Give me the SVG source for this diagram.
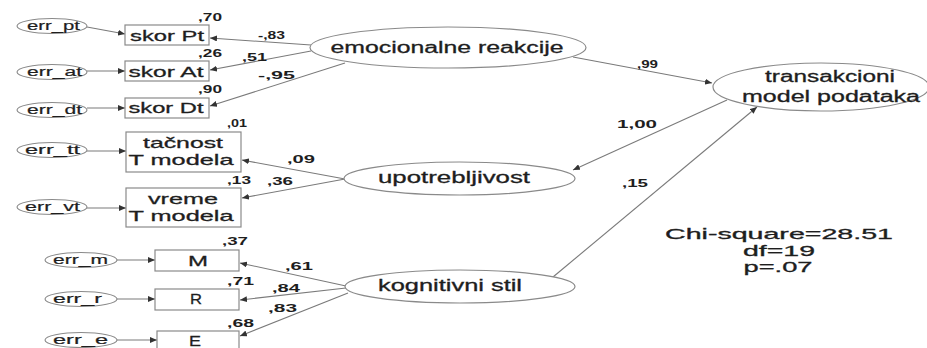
<svg xmlns="http://www.w3.org/2000/svg" width="927" height="348" viewBox="0 0 927 348">
  <style>
    .bg { fill: #ffffff; }
    .obs { fill: #ffffff; stroke: #8a8a8a; stroke-width: 1.2; }
    .lat { fill: #ffffff; stroke: #8a8a8a; stroke-width: 1.2; }
    .err { fill: #ffffff; stroke: #8a8a8a; stroke-width: 1.1; }
    .edge { fill: none; stroke: #7a7a7a; stroke-width: 1.1; marker-end: url(#arrow); }
    .t { font-family: "Liberation Sans", "DejaVu Sans", sans-serif; fill: #1e1e1e; stroke: #1e1e1e; stroke-width: 0.3; text-anchor: middle; }
    .big { font-size: 16px; }
    .mid { font-size: 15px; }
    .small { font-size: 12.5px; stroke-width: 0.2; }
    .num { font-family: "Liberation Sans", "DejaVu Sans", sans-serif; fill: #1e1e1e; font-size: 11.5px; font-weight: bold; }
    .stat { font-size: 14.5px; }
  </style>
  <defs>
    <marker id="arrow" viewBox="0 0 7 6" refX="7" refY="3" markerWidth="7" markerHeight="6" markerUnits="userSpaceOnUse" orient="auto">
      <path d="M0,0 L7,3 L0,6 z" fill="#333333"/>
    </marker>
  </defs>
  <rect class="bg" x="0" y="0" width="927" height="348"/>

  <!-- connectors -->
  <g id="connectors">
    <!-- error terms to indicators -->
    <line class="edge" x1="87" y1="27" x2="125" y2="34"/>
    <line class="edge" x1="87" y1="71" x2="125" y2="71"/>
    <line class="edge" x1="87" y1="108" x2="125" y2="108"/>
    <line class="edge" x1="87" y1="151" x2="126" y2="151"/>
    <line class="edge" x1="87" y1="208" x2="126" y2="208"/>
    <line class="edge" x1="117" y1="260" x2="155" y2="260"/>
    <line class="edge" x1="117" y1="299" x2="155" y2="299"/>
    <line class="edge" x1="117" y1="340" x2="157" y2="340"/>
    <!-- emocionalne reakcije to indicators -->
    <line class="edge" x1="311" y1="45" x2="210" y2="38"/>
    <line class="edge" x1="311" y1="51" x2="210" y2="70"/>
    <line class="edge" x1="345" y1="63" x2="210" y2="106"/>
    <!-- upotrebljivost to indicators -->
    <line class="edge" x1="345" y1="179" x2="242" y2="160"/>
    <line class="edge" x1="345" y1="179" x2="242" y2="198"/>
    <!-- kognitivni stil to indicators -->
    <line class="edge" x1="346" y1="286" x2="240" y2="263"/>
    <line class="edge" x1="346" y1="288" x2="240" y2="300"/>
    <line class="edge" x1="348" y1="293" x2="240" y2="336"/>
    <!-- structural paths -->
    <line class="edge" x1="573" y1="57" x2="712" y2="83"/>
    <line class="edge" x1="727" y1="100" x2="573" y2="170"/>
    <line class="edge" x1="553" y1="277" x2="757" y2="107"/>
  </g>

  <!-- error terms -->
  <g id="err_pt"><ellipse class="err" cx="52" cy="26" rx="35" ry="7.5"/><text class="t small" x="53.5" y="30" textLength="53" lengthAdjust="spacingAndGlyphs">err_pt</text></g>
  <g id="err_at"><ellipse class="err" cx="52" cy="72" rx="35" ry="7.5"/><text class="t small" x="54.5" y="76" textLength="55" lengthAdjust="spacingAndGlyphs">err_at</text></g>
  <g id="err_dt"><ellipse class="err" cx="52" cy="110" rx="35" ry="7.5"/><text class="t small" x="54.5" y="114" textLength="55" lengthAdjust="spacingAndGlyphs">err_dt</text></g>
  <g id="err_tt"><ellipse class="err" cx="52" cy="150" rx="35" ry="7.5"/><text class="t small" x="52.5" y="154" textLength="55" lengthAdjust="spacingAndGlyphs">err_tt</text></g>
  <g id="err_vt"><ellipse class="err" cx="52" cy="207" rx="35" ry="7.5"/><text class="t small" x="52.5" y="211" textLength="55" lengthAdjust="spacingAndGlyphs">err_vt</text></g>
  <g id="err_m"><ellipse class="err" cx="81" cy="260" rx="36" ry="7.5"/><text class="t small" x="80.5" y="264" textLength="55" lengthAdjust="spacingAndGlyphs">err_m</text></g>
  <g id="err_r"><ellipse class="err" cx="81" cy="299" rx="36" ry="7.5"/><text class="t small" x="77.5" y="303" textLength="49" lengthAdjust="spacingAndGlyphs">err_r</text></g>
  <g id="err_e"><ellipse class="err" cx="81" cy="340" rx="36" ry="7.5"/><text class="t small" x="80.5" y="344" textLength="55" lengthAdjust="spacingAndGlyphs">err_e</text></g>

  <!-- observed indicators -->
  <g id="skor_pt"><rect class="obs" x="125" y="25" width="84" height="20"/><text class="t mid" x="167" y="41" textLength="74" lengthAdjust="spacingAndGlyphs">skor Pt</text></g>
  <g id="skor_at"><rect class="obs" x="125" y="61" width="84" height="20"/><text class="t mid" x="166" y="77" textLength="75" lengthAdjust="spacingAndGlyphs">skor At</text></g>
  <g id="skor_dt"><rect class="obs" x="125" y="98" width="84" height="20"/><text class="t mid" x="166" y="113" textLength="75" lengthAdjust="spacingAndGlyphs">skor Dt</text></g>
  <g id="tacnost"><rect class="obs" x="126" y="132" width="115" height="40"/><text class="t mid" x="183" y="148" textLength="80" lengthAdjust="spacingAndGlyphs">tačnost</text><text class="t mid" x="181" y="165" textLength="105" lengthAdjust="spacingAndGlyphs">T modela</text></g>
  <g id="vreme"><rect class="obs" x="126" y="188" width="115" height="39"/><text class="t mid" x="183" y="204" textLength="70" lengthAdjust="spacingAndGlyphs">vreme</text><text class="t mid" x="181" y="221" textLength="105" lengthAdjust="spacingAndGlyphs">T modela</text></g>
  <g id="m"><rect class="obs" x="155" y="250" width="84" height="21"/><text class="t mid" x="198" y="266" textLength="20" lengthAdjust="spacingAndGlyphs">M</text></g>
  <g id="r"><rect class="obs" x="155" y="289" width="84" height="21"/><text class="t mid" x="196" y="304" textLength="12" lengthAdjust="spacingAndGlyphs">R</text></g>
  <g id="e"><rect class="obs" x="157" y="331" width="82" height="22"/><text class="t mid" x="195" y="346" textLength="12" lengthAdjust="spacingAndGlyphs">E</text></g>

  <!-- latent variables -->
  <g id="emocionalne_reakcije"><ellipse class="lat" cx="448" cy="47.5" rx="138" ry="20.5"/><text class="t big" x="447" y="53" textLength="233" lengthAdjust="spacingAndGlyphs">emocionalne reakcije</text></g>
  <g id="upotrebljivost"><ellipse class="lat" cx="459.5" cy="178.5" rx="115.5" ry="16.5"/><text class="t big" x="454" y="183" textLength="152" lengthAdjust="spacingAndGlyphs">upotrebljivost</text></g>
  <g id="kognitivni_stil"><ellipse class="lat" cx="460" cy="286.5" rx="115" ry="16.5"/><text class="t big" x="450" y="291" textLength="144" lengthAdjust="spacingAndGlyphs">kognitivni stil</text></g>
  <g id="transakcioni_model"><ellipse class="lat" cx="821" cy="87" rx="108" ry="24"/><text class="t big" x="830" y="82" textLength="130" lengthAdjust="spacingAndGlyphs">transakcioni</text><text class="t big" x="831" y="102" textLength="178" lengthAdjust="spacingAndGlyphs">model podataka</text></g>

  <!-- estimates -->
  <g id="estimates">
    <text class="num" x="198" y="21" textLength="24" lengthAdjust="spacingAndGlyphs">,70</text>
    <text class="num" x="198" y="57" textLength="24" lengthAdjust="spacingAndGlyphs">,26</text>
    <text class="num" x="198" y="93" textLength="24" lengthAdjust="spacingAndGlyphs">,90</text>
    <text class="num" x="227" y="127" textLength="20" lengthAdjust="spacingAndGlyphs">,01</text>
    <text class="num" x="227" y="184" textLength="24" lengthAdjust="spacingAndGlyphs">,13</text>
    <text class="num" x="222" y="245" textLength="26" lengthAdjust="spacingAndGlyphs">,37</text>
    <text class="num" x="227" y="285" textLength="27" lengthAdjust="spacingAndGlyphs">,71</text>
    <text class="num" x="227" y="327" textLength="27" lengthAdjust="spacingAndGlyphs">,68</text>
    <text class="num" x="258" y="39" textLength="27" lengthAdjust="spacingAndGlyphs">-,83</text>
    <text class="num" x="242" y="61" textLength="25" lengthAdjust="spacingAndGlyphs">,51</text>
    <text class="num" x="258" y="79" textLength="37" lengthAdjust="spacingAndGlyphs">-,95</text>
    <text class="num" x="287" y="163" textLength="28" lengthAdjust="spacingAndGlyphs">,09</text>
    <text class="num" x="267" y="185" textLength="26" lengthAdjust="spacingAndGlyphs">,36</text>
    <text class="num" x="285" y="270" textLength="28" lengthAdjust="spacingAndGlyphs">,61</text>
    <text class="num" x="272" y="292" textLength="28" lengthAdjust="spacingAndGlyphs">,84</text>
    <text class="num" x="268" y="312" textLength="29" lengthAdjust="spacingAndGlyphs">,83</text>
    <text class="num" x="637" y="68" textLength="21" lengthAdjust="spacingAndGlyphs">,99</text>
    <text class="num" x="617" y="128" textLength="40" lengthAdjust="spacingAndGlyphs">1,00</text>
    <text class="num" x="622" y="187" textLength="26" lengthAdjust="spacingAndGlyphs">,15</text>
  </g>

  <!-- fit statistics -->
  <g id="fit">
    <text class="t stat" x="779" y="239" textLength="228" lengthAdjust="spacingAndGlyphs">Chi-square=28.51</text>
    <text class="t stat" x="779" y="256" textLength="72" lengthAdjust="spacingAndGlyphs">df=19</text>
    <text class="t stat" x="778" y="272" textLength="69" lengthAdjust="spacingAndGlyphs">p=.07</text>
  </g>
</svg>
